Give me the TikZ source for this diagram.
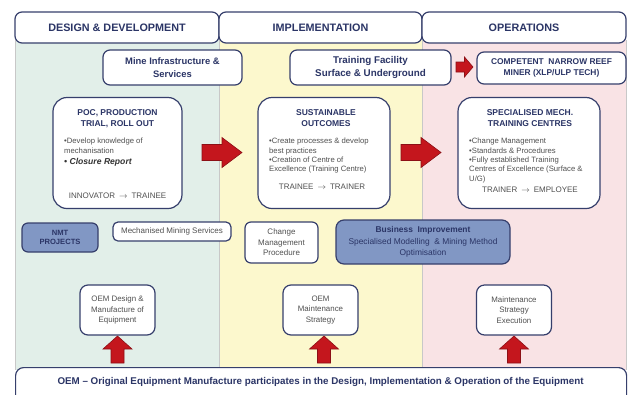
\documentclass[tikz,border=0pt]{standalone}
\usepackage{fontspec}
\setmainfont{Liberation Sans}
\definecolor{bordc}{HTML}{363F6C}
\definecolor{titlec}{HTML}{2B3566}
\definecolor{bodyc}{HTML}{505050}
\definecolor{greenbg}{HTML}{E2EFE9}
\definecolor{yellowbg}{HTML}{FCF8CD}
\definecolor{pinkbg}{HTML}{F9E3E5}
\definecolor{bluefill}{HTML}{8197C4}
\definecolor{redc}{HTML}{C4161D}
\definecolor{redd}{HTML}{8C1016}
\definecolor{linec}{HTML}{C8C8C8}
\newcommand{\myarr}{\hspace{4pt}$\rightarrow$\hspace{4pt}}
\begin{document}
\begin{tikzpicture}[x=1pt,y=-1pt,
  box/.style={draw=bordc, line width=1.2pt, rounded corners=7pt, fill=white, inner sep=0pt, align=center},
  bluebox/.style={box, fill=bluefill},
  hdr/.style={box, font=\fontsize{10.8}{12}\selectfont\bfseries, text=titlec},
  ttl/.style={font=\fontsize{8.5}{11}\selectfont\bfseries, text=titlec, align=center, inner sep=0pt},
  bodytxt/.style={font=\fontsize{7.7}{9.4}\selectfont, text=bodyc, align=left, inner sep=0pt, anchor=north west},
  smalltxt/.style={font=\fontsize{8}{9.3}\selectfont, text=bodyc, align=center, inner sep=0pt},
  redarrow/.style={fill=redc, draw=redd, line width=0.6pt, line join=miter}
]
\useasboundingbox (0,0) rectangle (628,394);
\fill[white] (0,0) rectangle (628,394);
% column backgrounds
\fill[greenbg] (15,40) rectangle (219,370);
\fill[yellowbg] (219,40) rectangle (422,370);
\fill[pinkbg] (422,40) rectangle (626,370);
\draw[linec, line width=0.5pt] (15,40) -- (15,370) (219,40) -- (219,370) (422,40) -- (422,370) (626,40) -- (626,370);

% headers
\node[hdr, minimum width=204pt, minimum height=31pt] (h1) at (117,27.5) {DESIGN \& DEVELOPMENT};
\node[hdr, minimum width=203pt, minimum height=31pt] (h2) at (320.5,27.5) {IMPLEMENTATION};
\node[hdr, minimum width=204pt, minimum height=31pt] (h3) at (524,27.5) {OPERATIONS};

% second row
\node[box, minimum width=139pt, minimum height=35pt, font=\fontsize{9.4}{13}\selectfont\bfseries, text=titlec] (mine) at (172.5,67.5) {Mine Infrastructure \&\\Services};
\node[box, minimum width=161pt, minimum height=35pt, font=\fontsize{9.8}{13}\selectfont\bfseries, text=titlec] (train) at (370.5,67.5) {Training Facility\\Surface \& Underground};
\node[box, minimum width=149pt, minimum height=32pt, font=\fontsize{8.4}{10.5}\selectfont\bfseries, text=titlec] (comp) at (551.5,68) {COMPETENT\ \ NARROW REEF\\MINER (XLP/ULP TECH)};
\coordinate (a0) at (464.5,67);
\draw[redarrow] ([shift={(-8.5,-5)}]a0) -- ([shift={(0,-5)}]a0) -- ([shift={(0,-10)}]a0) -- ([shift={(8.5,0)}]a0) -- ([shift={(0,10)}]a0) -- ([shift={(0,5)}]a0) -- ([shift={(-8.5,5)}]a0) -- cycle;

% third row
\node[box, rounded corners=14pt, minimum width=129pt, minimum height=111pt] (poc) at (117.5,153) {};
\node[ttl] (poct) at (117.5,118.5) {POC, PRODUCTION\\TRIAL, ROLL OUT};
\node[bodytxt] (pocb) at (64,138) {•Develop knowledge of\\mechanisation\\[1.5pt]{\fontsize{8.6}{10}\selectfont\bfseries\itshape\color{black!80}• Closure Report}};
\node[smalltxt] (pocf) at (117.5,196) {INNOVATOR\myarr TRAINEE};

\node[box, rounded corners=14pt, minimum width=132pt, minimum height=111pt] (sus) at (324,153) {};
\node[ttl] (sust) at (326,118.5) {SUSTAINABLE\\OUTCOMES};
\node[bodytxt] (susb) at (269,138) {•Create processes \& develop\\best practices\\•Creation of Centre of\\Excellence (Training Centre)};
\node[smalltxt] (susf) at (322,187) {TRAINEE\myarr TRAINER};

\node[box, rounded corners=14pt, minimum width=142pt, minimum height=111pt] (spec) at (529,153) {};
\node[ttl] (spect) at (530,118) {SPECIALISED MECH.\\TRAINING CENTRES};
\node[bodytxt] (specb) at (469,138) {•Change Management\\•Standards \& Procedures\\•Fully established Training\\Centres of Excellence (Surface \&\\U/G)};
\node[smalltxt] (specf) at (530,190) {TRAINER\myarr EMPLOYEE};

\coordinate (a1) at (222,152.5);
\coordinate (a2) at (421,152.5);
\foreach \c in {a1,a2}{
\draw[redarrow] ([shift={(-20,-8)}]\c) -- ([shift={(0,-8)}]\c) -- ([shift={(0,-15)}]\c) -- ([shift={(20,0)}]\c) -- ([shift={(0,15)}]\c) -- ([shift={(0,8)}]\c) -- ([shift={(-20,8)}]\c) -- cycle;
}

% fourth row
\node[bluebox, rounded corners=6pt, minimum width=76pt, minimum height=29pt, font=\fontsize{7.6}{9}\selectfont\bfseries, text=titlec] (nmt) at (60,237.5) {NMT\\PROJECTS};
\node[box, rounded corners=5pt, minimum width=118pt, minimum height=19pt, font=\fontsize{8}{9}\selectfont, text=bodyc] (mech) at (172,231.5) {Mechanised Mining Services};
\node[box, rounded corners=6pt, minimum width=73pt, minimum height=41pt, font=\fontsize{8}{10.5}\selectfont, text=bodyc] (chg) at (281.5,242.5) {Change\\Management\\Procedure};
\node[bluebox, rounded corners=8pt, minimum width=174pt, minimum height=44pt, font=\fontsize{8.4}{11.3}\selectfont, text=titlec] (bus) at (423,242) {\textbf{Business\ \ Improvement}\\Specialised Modelling\ \ \& Mining Method\\Optimisation};

% fifth row
\node[box, rounded corners=8pt, minimum width=75pt, minimum height=50pt, font=\fontsize{7.9}{10.5}\selectfont, text=bodyc] (oem1) at (117.5,310) {OEM Design \&\\Manufacture of\\Equipment};
\node[box, rounded corners=8pt, minimum width=75pt, minimum height=50pt, font=\fontsize{7.9}{10.5}\selectfont, text=bodyc] (oem2) at (320.5,310) {OEM\\Maintenance\\Strategy};
\node[box, rounded corners=8pt, minimum width=75pt, minimum height=50pt, font=\fontsize{7.9}{10.5}\selectfont, text=bodyc] (mse) at (514,310) {Maintenance\\Strategy\\Execution};

\coordinate (u1) at (117.5,336);
\coordinate (u2) at (324,336);
\coordinate (u3) at (514,336);
\foreach \c in {u1,u2,u3}{
\draw[redarrow] ([shift={(0,0)}]\c) -- ([shift={(14.5,13)}]\c) -- ([shift={(6.5,13)}]\c) -- ([shift={(6.5,27)}]\c) -- ([shift={(-6.5,27)}]\c) -- ([shift={(-6.5,13)}]\c) -- ([shift={(-14.5,13)}]\c) -- cycle;
}

% bottom
\node[box, rounded corners=8pt, minimum width=611pt, minimum height=40pt, anchor=north west] (oem) at (15,367) {};
\node[font=\fontsize{9.8}{11}\selectfont\bfseries, text=titlec, inner sep=0pt] (oemt) at (320.5,382) {OEM -- Original Equipment Manufacture participates in the Design, Implementation \& Operation of the Equipment};
\end{tikzpicture}
\end{document}
